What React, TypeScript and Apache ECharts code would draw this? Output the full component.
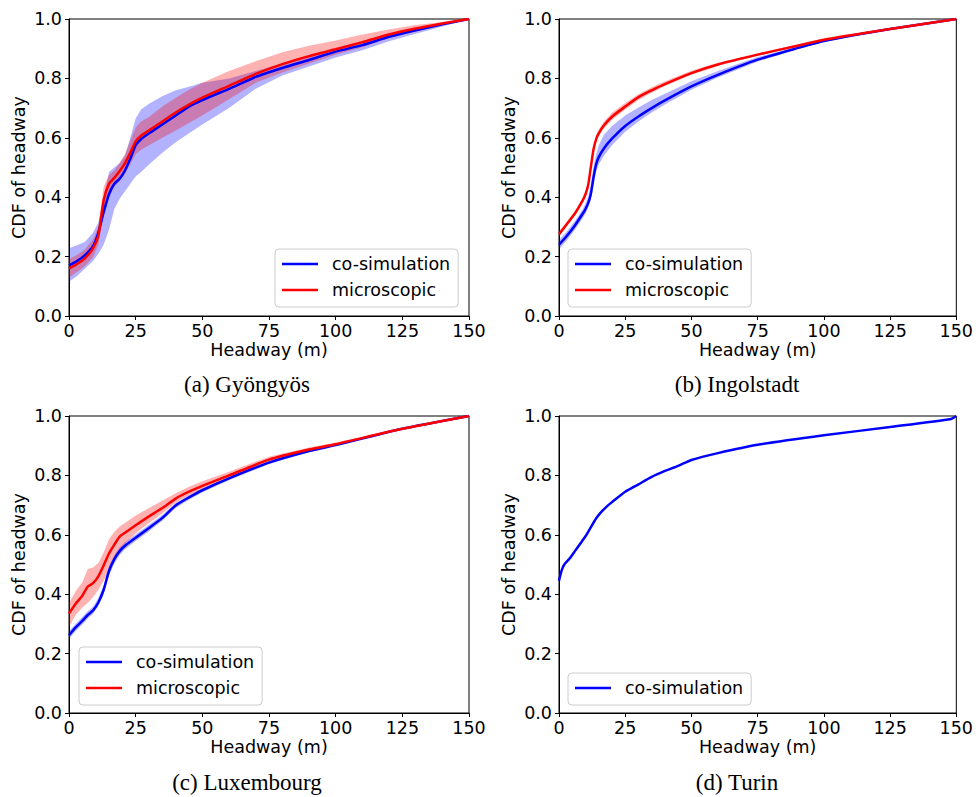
import React, { useEffect, useRef } from "react";
import * as echarts from "echarts";

// ---------- data ----------
const captions = ["(a) Gyöngyös", "(b) Ingolstadt", "(c) Luxembourg", "(d) Turin"];
const xTickLabels = [0, 25, 50, 75, 100, 125, 150];
const yTickLabels = ["0.0", "0.2", "0.4", "0.6", "0.8", "1.0"];

// (a) Gyöngyös
const xA = [0, 3, 6, 9, 11, 13, 15, 17, 19, 21, 23, 25, 27, 30, 35, 40, 45, 50, 60, 70, 80, 90, 100, 110, 120, 130, 140, 150];
const coSimA = [0.17, 0.185, 0.205, 0.235, 0.28, 0.35, 0.41, 0.445, 0.462, 0.49, 0.53, 0.575, 0.595, 0.615, 0.645, 0.675, 0.705, 0.727, 0.765, 0.805, 0.835, 0.862, 0.89, 0.912, 0.94, 0.962, 0.982, 1.0];
const coSimALo = [0.115, 0.135, 0.16, 0.185, 0.21, 0.24, 0.29, 0.36, 0.395, 0.42, 0.445, 0.47, 0.485, 0.51, 0.55, 0.585, 0.615, 0.645, 0.7, 0.765, 0.81, 0.84, 0.87, 0.895, 0.925, 0.95, 0.975, 1.0];
const coSimAHi = [0.228, 0.238, 0.25, 0.28, 0.315, 0.4, 0.485, 0.5, 0.515, 0.54, 0.6, 0.665, 0.695, 0.715, 0.74, 0.76, 0.772, 0.785, 0.8, 0.825, 0.85, 0.875, 0.9, 0.922, 0.948, 0.968, 0.985, 1.0];
const microA = [0.16, 0.175, 0.195, 0.228, 0.27, 0.39, 0.445, 0.465, 0.488, 0.515, 0.55, 0.588, 0.607, 0.625, 0.655, 0.685, 0.712, 0.735, 0.775, 0.815, 0.848, 0.875, 0.898, 0.922, 0.948, 0.968, 0.985, 1.0];
const microALo = [0.13, 0.148, 0.168, 0.198, 0.24, 0.34, 0.4, 0.435, 0.455, 0.48, 0.51, 0.545, 0.56, 0.575, 0.6, 0.625, 0.65, 0.675, 0.73, 0.785, 0.82, 0.85, 0.88, 0.905, 0.935, 0.958, 0.98, 1.0];
const microAHi = [0.192, 0.205, 0.225, 0.258, 0.3, 0.435, 0.475, 0.49, 0.515, 0.545, 0.59, 0.635, 0.655, 0.67, 0.705, 0.735, 0.762, 0.785, 0.825, 0.858, 0.888, 0.91, 0.928, 0.948, 0.965, 0.98, 0.99, 1.0];

// (b) Ingolstadt
const xB = [0, 3, 6, 9, 10, 11, 12, 13, 14, 15, 17, 20, 25, 30, 35, 40, 50, 60, 75, 90, 100, 125, 150];
const coSimB = [0.24, 0.27, 0.305, 0.345, 0.36, 0.38, 0.41, 0.465, 0.51, 0.535, 0.565, 0.597, 0.64, 0.672, 0.7, 0.726, 0.773, 0.812, 0.863, 0.902, 0.926, 0.966, 1.0];
const coSimBLo = [0.225, 0.255, 0.29, 0.33, 0.345, 0.365, 0.39, 0.44, 0.485, 0.51, 0.54, 0.575, 0.62, 0.655, 0.685, 0.712, 0.762, 0.803, 0.857, 0.898, 0.923, 0.964, 1.0];
const coSimBHi = [0.255, 0.285, 0.32, 0.36, 0.378, 0.4, 0.44, 0.5, 0.545, 0.575, 0.61, 0.64, 0.675, 0.702, 0.727, 0.748, 0.79, 0.825, 0.872, 0.906, 0.93, 0.968, 1.0];
const microB = [0.275, 0.31, 0.345, 0.39, 0.41, 0.44, 0.5, 0.56, 0.595, 0.615, 0.642, 0.671, 0.705, 0.737, 0.76, 0.781, 0.818, 0.847, 0.88, 0.91, 0.93, 0.966, 1.0];
const microBLo = [0.268, 0.303, 0.338, 0.383, 0.403, 0.432, 0.49, 0.55, 0.585, 0.605, 0.632, 0.66, 0.695, 0.727, 0.752, 0.774, 0.812, 0.842, 0.876, 0.907, 0.928, 0.965, 1.0];
const microBHi = [0.285, 0.318, 0.353, 0.397, 0.418, 0.45, 0.51, 0.57, 0.607, 0.628, 0.655, 0.684, 0.717, 0.747, 0.77, 0.79, 0.826, 0.853, 0.885, 0.913, 0.932, 0.967, 1.0];

// (c) Luxembourg
const xC = [0, 2.5, 5, 7, 9, 11, 13, 15, 17, 19, 21, 25, 30, 35, 40, 45, 50, 60, 75, 90, 100, 125, 150];
const coSimC = [0.262, 0.288, 0.31, 0.33, 0.345, 0.372, 0.415, 0.478, 0.518, 0.545, 0.563, 0.59, 0.623, 0.657, 0.699, 0.726, 0.75, 0.79, 0.843, 0.882, 0.902, 0.957, 1.0];
const coSimCLo = [0.25, 0.276, 0.298, 0.318, 0.333, 0.36, 0.4, 0.462, 0.503, 0.532, 0.551, 0.579, 0.612, 0.647, 0.69, 0.718, 0.743, 0.784, 0.838, 0.878, 0.899, 0.955, 1.0];
const coSimCHi = [0.275, 0.3, 0.323, 0.343, 0.358, 0.386, 0.43, 0.493, 0.532, 0.558, 0.575, 0.601, 0.634, 0.667, 0.707, 0.733, 0.756, 0.795, 0.847, 0.885, 0.905, 0.959, 1.0];
const microC = [0.335, 0.368, 0.395, 0.425, 0.437, 0.46, 0.497, 0.537, 0.567, 0.594, 0.607, 0.632, 0.662, 0.69, 0.722, 0.745, 0.765, 0.8, 0.853, 0.887, 0.905, 0.957, 1.0];
const microCLo = [0.29, 0.33, 0.355, 0.37, 0.39, 0.415, 0.445, 0.48, 0.52, 0.552, 0.57, 0.605, 0.64, 0.672, 0.708, 0.733, 0.753, 0.792, 0.846, 0.883, 0.902, 0.956, 1.0];
const microCHi = [0.37, 0.41, 0.44, 0.485, 0.49, 0.505, 0.54, 0.585, 0.61, 0.628, 0.64, 0.665, 0.69, 0.715, 0.74, 0.762, 0.78, 0.812, 0.863, 0.894, 0.911, 0.959, 1.0];

// (d) Turin
const xD = [0, 1, 2, 4, 6, 8, 10, 12, 14, 16, 18, 20, 25, 30, 35, 40, 45, 50, 60, 75, 100, 125, 148, 150];
const coSimD = [0.445, 0.48, 0.5, 0.52, 0.545, 0.57, 0.595, 0.625, 0.655, 0.677, 0.695, 0.71, 0.745, 0.77, 0.795, 0.815, 0.832, 0.852, 0.875, 0.903, 0.935, 0.963, 0.99, 1.0];

// ---------- styling ----------
const FONT = "DejaVu Sans";
const FS = 17.5;
const BLUE = "#0000ff";
const RED = "#ff0000";
const BLUE_FILL = "rgba(0,0,255,0.3)";
const RED_FILL = "rgba(255,0,0,0.3)";

const gridBoxes = [
  { left: 69, top: 19, width: 400, height: 297 },
  { left: 559, top: 19, width: 399, height: 297 },
  { left: 69, top: 416, width: 400, height: 297 },
  { left: 559, top: 416, width: 399, height: 297 },
];
const legendPos = [
  { left: 275, top: 249 },
  { left: 568, top: 249 },
  { left: 79, top: 647 },
  { left: 568, top: 673 },
];
const captionPos = [
  { x: 247, y: 384 },
  { x: 737, y: 384 },
  { x: 247, y: 782 },
  { x: 737, y: 782 },
];

function bandSeries(idx: number, xs: number[], lo: number[], hi: number[], fill: string, z: number) {
  return {
    type: "custom",
    xAxisIndex: idx,
    yAxisIndex: idx,
    silent: true,
    z,
    data: [[xs[0], lo[0]]],
    renderItem: (_params: any, api: any) => {
      const pts: number[][] = [];
      for (let i = 0; i < xs.length; i++) pts.push(api.coord([xs[i], hi[i]]));
      for (let i = xs.length - 1; i >= 0; i--) pts.push(api.coord([xs[i], lo[i]]));
      return { type: "polygon", shape: { points: pts }, style: { fill } };
    },
  };
}

function lineSeries(idx: number, name: string, xs: number[], ys: number[], color: string, z: number) {
  return {
    type: "line",
    name,
    xAxisIndex: idx,
    yAxisIndex: idx,
    data: xs.map((x, i) => [x, ys[i]]),
    showSymbol: false,
    symbol: "none",
    smooth: 0.2,
    z,
    lineStyle: { color, width: 2.5 },
    itemStyle: { color },
    emphasis: { disabled: true },
  };
}

export default function App() {
  const ref = useRef<HTMLDivElement>(null);
  useEffect(() => {
    if (!ref.current) return;
    const chart = echarts.init(ref.current, null, { renderer: "svg" });
    const grids = gridBoxes.map((g) => ({
      ...g,
      show: true,
      borderColor: "#000",
      borderWidth: 1,
      containLabel: false,
    }));
    const xAxes = gridBoxes.map((_, i) => ({
      gridIndex: i,
      type: "value",
      min: 0,
      max: 150,
      interval: 25,
      name: "Headway (m)",
      nameLocation: "middle",
      nameGap: 22,
      nameTextStyle: { fontFamily: FONT, fontSize: FS, color: "#000" },
      axisLine: { show: true, onZero: false, lineStyle: { color: "#000", width: 1 } },
      axisTick: { show: true, length: 4, lineStyle: { color: "#000", width: 1 } },
      axisLabel: {
        fontFamily: FONT,
        fontSize: FS,
        color: "#000",
        margin: 6,
        formatter: (v: number) => (xTickLabels.includes(v) ? String(v) : ""),
      },
      splitLine: { show: false },
    }));
    const yAxes = gridBoxes.map((_, i) => ({
      gridIndex: i,
      type: "value",
      min: 0,
      max: 1,
      interval: 0.2,
      name: "CDF of headway",
      nameLocation: "middle",
      nameGap: 41,
      nameTextStyle: { fontFamily: FONT, fontSize: FS, color: "#000" },
      axisLine: { show: true, onZero: false, lineStyle: { color: "#000", width: 1 } },
      axisTick: { show: true, length: 4, lineStyle: { color: "#000", width: 1 } },
      axisLabel: {
        fontFamily: FONT,
        fontSize: FS,
        color: "#000",
        margin: 7,
        formatter: (v: number) => yTickLabels[Math.round(v * 5)] ?? "",
      },
      splitLine: { show: false },
    }));

    const series: any[] = [
      bandSeries(0, xA, coSimALo, coSimAHi, BLUE_FILL, 1),
      bandSeries(0, xA, microALo, microAHi, RED_FILL, 2),
      lineSeries(0, "co-simulation", xA, coSimA, BLUE, 3),
      lineSeries(0, "microscopic", xA, microA, RED, 4),

      bandSeries(1, xB, coSimBLo, coSimBHi, BLUE_FILL, 1),
      bandSeries(1, xB, microBLo, microBHi, RED_FILL, 2),
      lineSeries(1, "co-simulation", xB, coSimB, BLUE, 3),
      lineSeries(1, "microscopic", xB, microB, RED, 4),

      bandSeries(2, xC, coSimCLo, coSimCHi, BLUE_FILL, 1),
      bandSeries(2, xC, microCLo, microCHi, RED_FILL, 2),
      lineSeries(2, "co-simulation", xC, coSimC, BLUE, 3),
      lineSeries(2, "microscopic", xC, microC, RED, 4),

      lineSeries(3, "co-simulation", xD, coSimD, BLUE, 3),
    ];

    const legends = legendPos.map((p, i) => ({
      ...p,
      orient: "vertical",
      data: i === 3 ? ["co-simulation"] : ["co-simulation", "microscopic"],
      icon: "rect",
      itemWidth: 36,
      itemHeight: 2.5,
      itemGap: 6,
      padding: [5, 8, 7, 7],
      borderColor: "#cccccc",
      borderWidth: 1,
      borderRadius: 4,
      backgroundColor: "rgba(255,255,255,0.8)",
      selectedMode: false,
      textStyle: { fontFamily: FONT, fontSize: FS, color: "#000", lineHeight: 20, padding: [0, 0, 0, 9] },
    }));

    const graphic = captions.map((t, i) => ({
      type: "text",
      x: captionPos[i].x,
      y: captionPos[i].y,
      style: {
        text: t,
        align: "center",
        verticalAlign: "middle",
        fontFamily: "Liberation Serif",
        fontSize: 23,
        fill: "#000",
      },
    }));

    chart.setOption({
      animation: false,
      backgroundColor: "#fff",
      grid: grids,
      xAxis: xAxes,
      yAxis: yAxes,
      legend: legends,
      series,
      graphic,
    });
    return () => chart.dispose();
  }, []);
  return (
    <div
      ref={ref}
      style={{ position: "fixed", left: 0, top: 0, width: 976, height: 797, background: "#fff" }}
    />
  );
}
